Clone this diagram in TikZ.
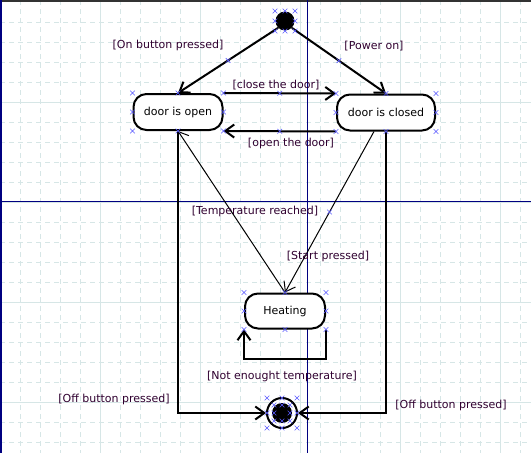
\documentclass[tikz,border=0pt]{standalone}
\usepackage{fontspec}
\setmainfont{DejaVu Sans}
\usetikzlibrary{arrows.meta,shapes.misc}
\definecolor{gridcol}{RGB}{214,230,230}
\definecolor{guidecol}{RGB}{0,0,128}
\definecolor{guardcol}{RGB}{48,0,48}
\definecolor{handlecol}{RGB}{90,90,255}
\tikzset{
	state/.style={draw, line width=2pt, rounded corners=13pt, fill=white, minimum height=36pt, inner sep=0pt, font=\fontsize{11}{13}\selectfont},
	guard/.style={text=guardcol, inner sep=0pt, font=\fontsize{11}{13}\selectfont},
	trans/.style={line width=2pt, -{Straight Barb[length=9pt,width=13pt]}},
	thintrans/.style={line width=1pt, -{Straight Barb[length=9pt,width=13pt]}},
	handle/.style={cross out, draw=handlecol, line width=0.6pt, minimum size=4pt, inner sep=0pt},
	gridline/.style={gridcol, line width=1pt, dash pattern=on 5pt off 4pt},
}

\begin{document}
\begin{tikzpicture}[x=1pt, y=-1pt]
	%%%%% BACKGROUND %%%%%
	\fill[white] (0,0) rectangle (531,453);
	\useasboundingbox (0,0) rectangle (531,453);
	
	\foreach \gx in {20.5,40.5,...,530} \draw[gridline] (\gx,0) -- (\gx,453);
	\foreach \gy in {22.5,42.5,...,453} \draw[gridline] (0,\gy) -- (531,\gy);
	\foreach \gx in {100.5,200.5,...,530} \draw[gridcol, line width=1pt] (\gx,0) -- (\gx,453);
	\foreach \gy in {102.5,202.5,...,453} \draw[gridcol, line width=1pt] (0,\gy) -- (531,\gy);
	
	\draw[black!80, line width=2pt] (0,1) -- (531,1);
	\draw[guidecol, line width=2pt] (1,0) -- (1,453);
	\draw[guidecol, line width=1pt] (307,0) -- (307,453);
	\draw[guidecol, line width=1pt] (0,201) -- (531,201);
	
	%%%%% STATES %%%%%
	\node[circle, fill=black, minimum size=19pt, inner sep=0pt] (init) at (285,21) {};
	\node[state, minimum width=89pt] (open) at (178,112) {door is open};
	\node[state, minimum width=98pt] (closed) at (386,112.5) {door is closed};
	\node[state, minimum width=80pt, minimum height=35pt] (heat) at (285,311) {Heating};
	\node[circle, draw, line width=2pt, fill=white, minimum size=30pt, inner sep=0pt] (final) at (282,413) {};
	\fill (final) circle (10pt);
	
	%%%%% TRANSITIONS %%%%%
	\draw[trans] (init.south west) -- node[handle] {} (open.north);
	\draw[trans] (init.south east) -- node[handle] {} (closed.north);
	\draw[trans] (open.north east) -- node[handle] {} (closed.north west);
	\draw[trans] (closed.south west) -- node[handle] {} (open.south east);
	\draw[thintrans] ([xshift=-12pt]closed.south) -- node[handle] {} (heat.north);
	\draw[thintrans] (heat.north) -- (open.south);
	\draw[trans] (heat.south east) -- ++(0,29) -| (heat.south west);
	\draw[trans] (open.south) |- (final.west);
	\draw[trans] (closed.south) |- (final.east);
	
	%%%%% GUARDS %%%%%
	\node[guard] (g-on) at (168,45) {[On button pressed]};
	\node[guard] (g-power) at (374,46) {[Power on]};
	\node[guard] (g-close) at (276,85) {[close the door]};
	\node[guard] (g-open) at (291,143) {[open the door]};
	\node[guard] (g-temp) at (255,211) {[Temperature reached]};
	\node[guard] (g-start) at (328,256) {[Start pressed]};
	\node[guard] (g-noheat) at (282,376) {[Not enought temperature]};
	\node[guard] (g-offl) at (114,399) {[Off button pressed]};
	\node[guard] (g-offr) at (451,405) {[Off button pressed]};
	
	%%%%% HANDLES %%%%%
	\foreach \st in {open,closed,heat}
		\foreach \an in {north west,north,north east,west,east,south west,south,south east}
			\node[handle] at (\st.\an) {};
	\foreach \dx/\dy in {-10/-10,0/-10,10/-10,-10/0,10/0,-10/10,0/10,10/10}
		\node[handle] at ([shift={(\dx pt,\dy pt)}]init.center) {};
	\foreach \dx/\dy in {-15/-15,0/-15,15/-15,-15/0,15/0,-15/15,0/15,15/15,-8/-8,0/-8,8/-8,-8/0,8/0,-8/8,0/8,8/8}
		\node[handle] at ([shift={(\dx pt,\dy pt)}]final.center) {};
\end{tikzpicture}
\end{document}
